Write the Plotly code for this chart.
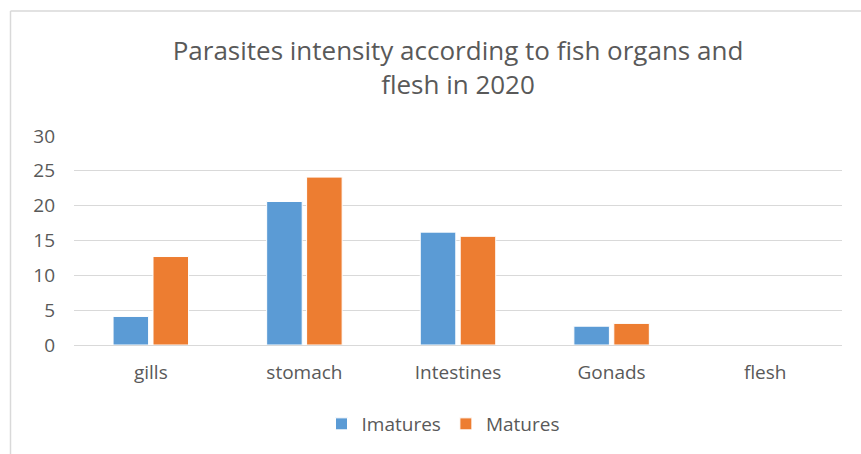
import plotly.graph_objects as go

categories = ["gills", "stomach", "Intestines", "Gonads", "flesh"]
imatures = [4.1, 20.6, 16.2, 2.7, 0]
matures = [12.7, 24.1, 15.6, 3.1, 0]
y_ticks = [0, 5, 10, 15, 20, 25, 30]

W, H = 861, 454
L, R, T, B = 74, 19, 136, 109
pw, ph = W - L - R, H - T - B

font_fam = "Open Sans, Lato, sans-serif"
gray = "#595959"

fig = go.Figure()
fig.add_trace(go.Bar(name="Imatures", x=categories, y=imatures,
                     marker=dict(color="#5B9BD5", line=dict(color="#FFFFFF", width=1))))
fig.add_trace(go.Bar(name="Matures", x=categories, y=matures,
                     marker=dict(color="#ED7D31", line=dict(color="#FFFFFF", width=1))))

fig.update_layout(
    width=W, height=H,
    margin=dict(l=L, r=R, t=T, b=B, autoexpand=False),
    paper_bgcolor="white", plot_bgcolor="white",
    barmode="group", bargap=0.48, bargroupgap=0.11,
    font=dict(family=font_fam, color=gray, size=19),
    title=dict(text="Parasites intensity according to fish organs and<br>flesh in 2020",
               x=0.5, xanchor="center", xref="paper",
               y=1 - 60 / H, yanchor="middle", yref="container",
               font=dict(family=font_fam, size=26, color=gray)),
    xaxis=dict(showgrid=False, showline=False, zeroline=False, ticks="",
               ticklabelstandoff=14, tickfont=dict(size=19, color=gray)),
    yaxis=dict(range=[0, 30], tickvals=y_ticks, showgrid=True, gridcolor="#D9D9D9",
               gridwidth=1.3, zeroline=True, zerolinecolor="#D9D9D9", zerolinewidth=1.3,
               showline=False, ticks="", ticklabelstandoff=18,
               tickfont=dict(size=19, color=gray)),
    legend=dict(orientation="h", x=0.5 - 15 / pw, xanchor="center", y=-(424 - 345) / ph,
                yanchor="middle", font=dict(size=19, color=gray),
                itemwidth=30, traceorder="normal"),
    shapes=[
        dict(type="line", xref="paper", yref="paper",
             x0=(10.5 - L) / pw, x1=(W + 5 - L) / pw,
             y0=(H - B - 11) / ph + 0, y1=(H - B - 11) / ph,
             line=dict(color="#D9D9D9", width=1.5)),
        dict(type="line", xref="paper", yref="paper",
             x0=(10.5 - L) / pw, x1=(10.5 - L) / pw,
             y0=(H - B - 11) / ph, y1=-(B + 5) / ph,
             line=dict(color="#D9D9D9", width=1.5)),
    ],
)
fig.write_html("out.html")
